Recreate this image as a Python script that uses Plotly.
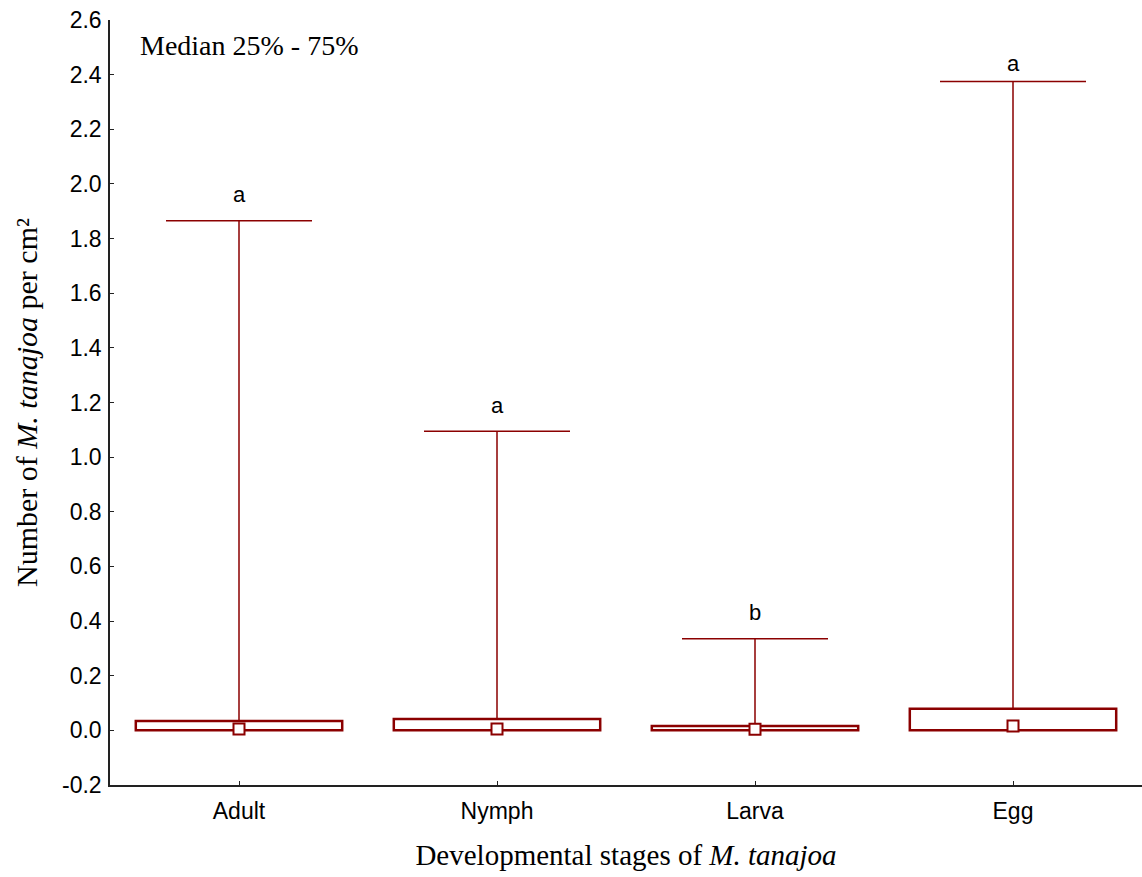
import plotly.graph_objects as go

stages = ["Adult", "Nymph", "Larva", "Egg"]
q1 = [0.0, 0.0, 0.0, 0.0]
medians = [0.005, 0.005, 0.004, 0.016]
q3 = [0.034, 0.042, 0.016, 0.079]
upper = [1.865, 1.095, 0.335, 2.375]
letters = ["a", "a", "b", "a"]
ytick_vals = [-0.2, 0.0, 0.2, 0.4, 0.6, 0.8, 1.0, 1.2, 1.4, 1.6, 1.8, 2.0, 2.2, 2.4, 2.6]
ytick_text = ["-0.2", "0.0", "0.2", "0.4", "0.6", "0.8", "1.0", "1.2", "1.4", "1.6", "1.8", "2.0", "2.2", "2.4", "2.6"]

RED = "#8B0000"
YMAX = 2.6

fig = go.Figure()

# whiskers (from Q3 to max) drawn as error bars
fig.add_trace(go.Scatter(
    x=stages, y=q3, mode="markers",
    marker=dict(size=1, color="rgba(0,0,0,0)"),
    error_y=dict(type="data", symmetric=False,
                 array=[u - q for u, q in zip(upper, q3)],
                 arrayminus=[0, 0, 0, 0],
                 color=RED, thickness=1.5, width=73),
    showlegend=False, hoverinfo="skip"))

# boxes (25%-75%)
fig.add_trace(go.Bar(
    x=stages, y=[b - a for a, b in zip(q1, q3)], base=q1,
    width=0.8,
    marker=dict(color="white", line=dict(color=RED, width=2.5)),
    showlegend=False))

# medians
fig.add_trace(go.Scatter(
    x=stages, y=medians, mode="markers",
    marker=dict(symbol="square", size=11, color="white",
                line=dict(color=RED, width=2)),
    showlegend=False))

for s, u, l in zip(stages, upper, letters):
    shift = 18 if (YMAX - u) < 0.3 else 26
    fig.add_annotation(x=s, y=u, text=l, showarrow=False, yshift=shift,
                       font=dict(family="Liberation Sans", size=22, color="black"))

fig.add_annotation(xref="paper", yref="paper", x=0.027, y=0.99,
                   xanchor="left", yanchor="top", showarrow=False,
                   text="Median 25% - 75%",
                   font=dict(family="Liberation Serif", size=28, color="black"))

fig.update_layout(
    width=1142, height=877,
    margin=dict(l=110, r=0, t=20, b=92),
    plot_bgcolor="white", paper_bgcolor="white",
    barmode="overlay",
    font=dict(family="Liberation Sans", color="black"),
    xaxis=dict(range=[-0.5, 3.5], showgrid=False, zeroline=False,
               showline=True, linecolor="#222", linewidth=1.5,
               ticks="inside", ticklen=4, tickcolor="#222",
               ticklabelstandoff=5,
               tickfont=dict(family="Liberation Sans", size=23),
               title=dict(text="Developmental stages of <i>M. tanajoa</i>",
                          font=dict(family="Liberation Serif", size=29),
                          standoff=21)),
    yaxis=dict(range=[-0.2, YMAX], showgrid=False, zeroline=False,
               showline=True, linecolor="#222", linewidth=1.5,
               ticks="inside", ticklen=4, tickcolor="#222",
               tickvals=ytick_vals, ticktext=ytick_text,
               ticklabelstandoff=2,
               tickfont=dict(family="Liberation Sans", size=23),
               title=dict(text="Number of <i>M. tanajoa</i> per cm²",
                          font=dict(family="Liberation Serif", size=30),
                          standoff=16)),
)

fig.write_html("out.html",
               config={"displayModeBar": False},
               post_script="document.body.style.margin='0';document.body.style.padding='0';")
